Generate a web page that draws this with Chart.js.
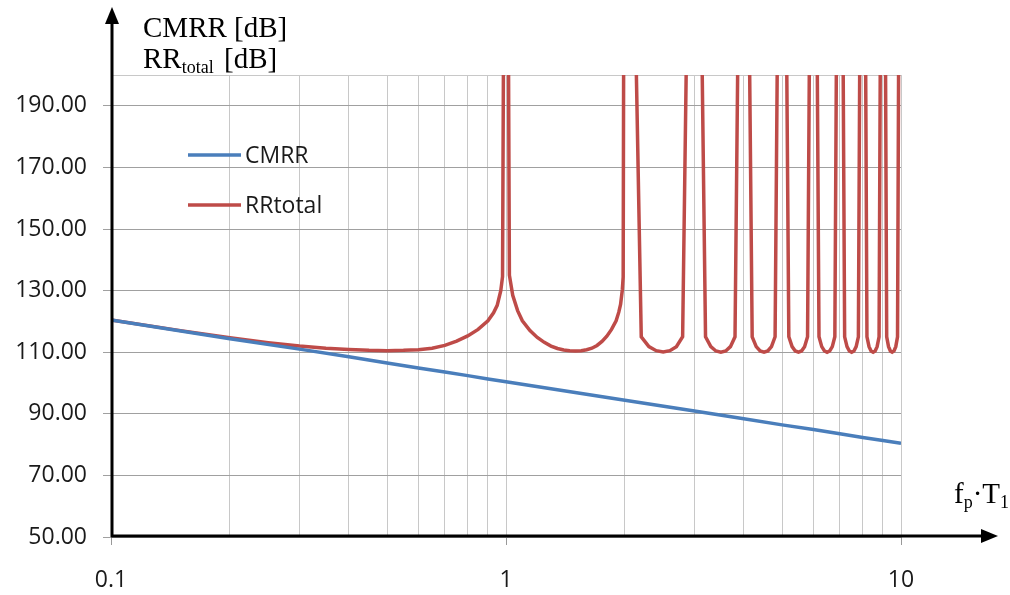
<!DOCTYPE html>
<html>
<head>
<meta charset="utf-8">
<script src="https://cdn.jsdelivr.net/npm/chart.js@4.4.1/dist/chart.umd.min.js"></script>
<style>
  body { margin: 0; background: #fff; }
  #wrap { position: relative; width: 1010px; height: 595px; }
</style>
</head>
<body>
<div id="wrap"><canvas id="myChart"></canvas></div>
<script>
// x positions of the grid (log axis), labels only on decades
const xTicks = [0.1, 0.2, 0.3, 0.4, 0.5, 0.6, 0.7, 0.8, 0.9, 1, 2, 3, 4, 5, 6, 7, 8, 9, 10];
const yTicks = [50, 70, 90, 110, 130, 150, 170, 190, 200];

const cmrrX = [0.1, 0.2, 0.3, 0.4, 0.5, 0.6, 0.7, 0.8, 0.9, 1, 2, 3, 4, 5, 6, 7, 8, 9, 10];
const cmrrY = [120.5, 114.4, 111.0, 108.5, 106.5, 104.9, 103.6, 102.4, 101.3, 100.4, 94.4, 90.9, 88.4, 86.4, 84.9, 83.5, 82.3, 81.3, 80.4];

const rrX = [
  0.1, 0.15, 0.2, 0.25, 0.3, 0.35, 0.4, 0.45, 0.5, 0.55, 0.6, 0.65, 0.7, 0.75, 0.8, 0.85, 0.9, 0.93, 0.95, 0.97, 0.98,
  1, 1.02, 1.04, 1.07, 1.1, 1.15, 1.2, 1.25, 1.3, 1.35, 1.4, 1.45, 1.5, 1.55, 1.6, 1.65, 1.7, 1.75, 1.8, 1.85, 1.9, 1.93, 1.95, 1.97, 1.98,
  2, 2.2, 2.3, 2.4, 2.5, 2.6, 2.7, 2.8,
  3, 3.2, 3.3, 3.4, 3.5, 3.6, 3.7, 3.8,
  4, 4.2, 4.3, 4.4, 4.5, 4.6, 4.7, 4.8,
  5, 5.2, 5.3, 5.4, 5.5, 5.6, 5.7, 5.8,
  6, 6.2, 6.3, 6.4, 6.5, 6.6, 6.7, 6.8,
  7, 7.2, 7.3, 7.4, 7.5, 7.6, 7.7, 7.8,
  8, 8.2, 8.3, 8.4, 8.5, 8.6, 8.7, 8.8,
  9, 9.2, 9.3, 9.4, 9.5, 9.6, 9.7, 9.8,
  10
];
const rrY = [
  120.5, 117.0, 114.7, 113.1, 112.0, 111.3, 110.9, 110.6, 110.5, 110.6, 110.8, 111.3, 112.2, 113.6, 115.3, 117.4, 120.2, 122.8, 125.2, 130.0, 134.5,
  400, 135.0, 128.5, 123.5, 120.2, 117.0, 114.8, 113.2, 112.0, 111.2, 110.7, 110.5, 110.4, 110.5, 110.8, 111.3, 112.2, 113.5, 115.2, 117.4, 120.2, 123.0, 125.5, 130.2, 134.5,
  400, 115.0, 111.8, 110.5, 110.1, 110.5, 111.8, 115.0,
  400, 115.0, 111.8, 110.4, 110.0, 110.4, 111.8, 115.0,
  400, 115.0, 111.8, 110.4, 110.0, 110.4, 111.8, 115.0,
  400, 115.0, 111.8, 110.4, 110.0, 110.4, 111.8, 115.0,
  400, 115.0, 111.8, 110.4, 110.0, 110.4, 111.8, 115.0,
  400, 115.0, 111.8, 110.4, 110.0, 110.4, 111.8, 115.0,
  400, 115.0, 111.8, 110.4, 110.0, 110.4, 111.8, 115.0,
  400, 115.0, 111.8, 110.4, 110.0, 110.4, 111.8, 115.0,
  400
];

const isDecade = v => Math.abs(Math.log10(v) - Math.round(Math.log10(v))) < 1e-6;

const sansFont = '"Open Sans", sans-serif';
const serifFont = '"Liberation Serif", serif';

// arrows, axis titles and legend, drawn on top like the original sketch
const extras = {
  id: 'extras',
  afterDraw(chart) {
    const ctx = chart.ctx;
    const a = chart.chartArea;
    ctx.save();

    // axes with arrowheads
    ctx.strokeStyle = '#000';
    ctx.fillStyle = '#000';
    ctx.lineWidth = 3;
    ctx.beginPath();
    ctx.moveTo(a.left + 1, a.bottom);
    ctx.lineTo(a.left + 1, 22);
    ctx.moveTo(a.left, a.bottom - 1);
    ctx.lineTo(984, a.bottom - 1);
    ctx.stroke();
    ctx.beginPath();
    ctx.moveTo(a.left + 1, 7);
    ctx.lineTo(a.left - 6, 24);
    ctx.lineTo(a.left + 8, 24);
    ctx.closePath();
    ctx.fill();
    ctx.beginPath();
    ctx.moveTo(998, a.bottom - 1);
    ctx.lineTo(981, a.bottom - 8);
    ctx.lineTo(981, a.bottom + 6);
    ctx.closePath();
    ctx.fill();

    // axis titles
    ctx.textBaseline = 'alphabetic';
    ctx.textAlign = 'left';
    ctx.font = '29px ' + serifFont;
    ctx.fillText('CMRR [dB]', 143, 37);
    ctx.fillText('RR', 143, 68);
    let w = ctx.measureText('RR').width;
    ctx.font = '18px ' + serifFont;
    ctx.fillText('total', 143 + w, 73);
    ctx.font = '29px ' + serifFont;
    ctx.fillText('[dB]', 224, 68);

    let x = 954;
    ctx.fillText('f', x, 503);
    x += ctx.measureText('f').width;
    ctx.font = '18px ' + serifFont;
    ctx.fillText('p', x, 508);
    x += ctx.measureText('p').width;
    ctx.font = '29px ' + serifFont;
    ctx.fillText('\u00B7T', x, 503);
    x += ctx.measureText('\u00B7T').width;
    ctx.font = '18px ' + serifFont;
    ctx.fillText('1', x, 508);

    // legend inside the plot
    ctx.font = '23px ' + sansFont;
    ctx.textBaseline = 'middle';
    chart.data.datasets.forEach((ds, i) => {
      const y = a.top + 80 + i * 50;
      ctx.strokeStyle = ds.borderColor;
      ctx.lineWidth = 3.5;
      ctx.beginPath();
      ctx.moveTo(a.left + 77, y);
      ctx.lineTo(a.left + 130, y);
      ctx.stroke();
      ctx.fillStyle = '#1a1a1a';
      ctx.fillText(ds.label, a.left + 134, y + 1);
    });
    ctx.restore();
  }
};

const config = {
  type: 'line',
  data: {
    datasets: [
      {
        label: 'CMRR',
        data: cmrrX.map((x, i) => ({ x: x, y: cmrrY[i] })),
        borderColor: '#4A7EBB',
        backgroundColor: '#4A7EBB',
        borderWidth: 3.5,
        pointRadius: 0,
        tension: 0,
        clip: 0
      },
      {
        label: 'RRtotal',
        data: rrX.map((x, i) => ({ x: x, y: rrY[i] })),
        borderColor: '#BE4B48',
        backgroundColor: '#BE4B48',
        borderWidth: 3.5,
        pointRadius: 0,
        tension: 0,
        clip: 0
      }
    ]
  },
  options: {
    responsive: true,
    maintainAspectRatio: false,
    animation: false,
    layout: { padding: { top: 75, right: 109, left: 0, bottom: 0 } },
    plugins: {
      legend: { display: false },
      tooltip: { enabled: false }
    },
    scales: {
      x: {
        type: 'logarithmic',
        min: 0.1,
        max: 10,
        afterBuildTicks: scale => { scale.ticks = xTicks.map(v => ({ value: v })); },
        afterFit: scale => { scale.height = 58; },
        border: { display: false },
        grid: {
          color: '#c8c8c8',
          lineWidth: 1,
          tickLength: 8,
          tickColor: c => (c.tick && isDecade(c.tick.value)) ? '#999' : 'rgba(0,0,0,0)'
        },
        ticks: {
          autoSkip: false,
          maxRotation: 0,
          padding: 22,
          color: '#1a1a1a',
          font: { family: sansFont, size: 23 },
          callback: v => isDecade(v) ? String(v) : ''
        }
      },
      y: {
        min: 50,
        max: 200,
        afterBuildTicks: scale => { scale.ticks = yTicks.map(v => ({ value: v })); },
        afterFit: scale => { scale.width = 111; },
        border: { display: false },
        grid: {
          color: c => (c.tick && c.tick.value === 200) ? '#c8c8c8' : '#a0a0a0',
          lineWidth: 1,
          tickLength: 8,
          tickColor: c => (c.tick && c.tick.value === 200) ? 'rgba(0,0,0,0)' : '#a0a0a0'
        },
        ticks: {
          padding: 16,
          color: '#1a1a1a',
          font: { family: sansFont, size: 23 },
          callback: v => v === 200 ? '' : v.toFixed(2)
        }
      }
    }
  },
  plugins: [extras]
};

new Chart(document.getElementById('myChart'), config);
</script>
</body>
</html>
